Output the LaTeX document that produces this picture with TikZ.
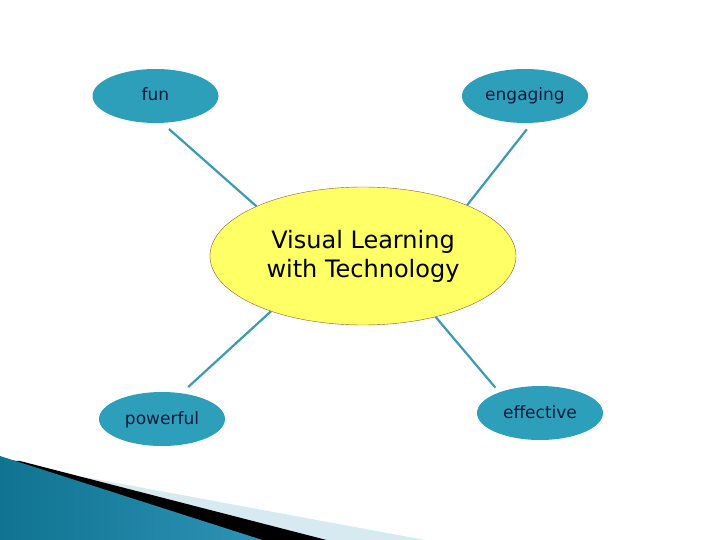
\documentclass[tikz,border=0pt]{standalone}
\usepackage{fontspec}
\setmainfont{DejaVu Sans}
\usepackage{xcolor}
\usetikzlibrary{shapes,positioning}
\definecolor{leafblue}{HTML}{2E9FBA}
\definecolor{leaftext}{HTML}{0C1A3C}
\definecolor{idea}{HTML}{FFFF66}
\definecolor{ideaborder}{HTML}{A0522D}
\definecolor{linkblue}{HTML}{3A9BB2}
\definecolor{swdark}{HTML}{0F7391}
\definecolor{swlight}{HTML}{5BBCDC}
\definecolor{swtip}{HTML}{2F95B8}
\definecolor{swpale}{HTML}{D8EAF1}
\tikzstyle{hub} = [ellipse, draw=ideaborder, fill=idea, minimum width=306pt, minimum height=138pt, inner sep=0pt, align=center, font=\fontsize{24}{29}\selectfont]
\tikzstyle{leaf} = [ellipse, fill=leafblue, minimum width=126pt, minimum height=54pt, inner sep=0pt, text=leaftext, text height=12pt, text depth=2pt, font=\fontsize{17}{20}\selectfont]
\tikzstyle{link} = [draw=linkblue, line width=2.2pt]

\begin{document}
\begin{tikzpicture}[x=1pt, y=-1pt, node distance=369.5pt]
  \useasboundingbox (0,0) rectangle (720,540);
  % corner swoosh
  \fill[swpale] (90,478) -- (452,545) -- (0,545) -- (0,470) -- cycle;
  \fill[black] (20,461) -- (346,545) -- (0,545) -- (0,460) -- cycle;
  \shade[left color=swdark, middle color=swlight, right color=swtip] (0,456) -- (278,545) -- (0,545) -- cycle;
  % mind map
  \node[hub] (hub) at (363,256) {Visual Learning\\with Technology};
  \node[leaf] (fun) at (155.5,96) {fun};
  \node[leaf] (engaging) [right of=fun] {engaging};
  \node[leaf] (powerful) at (162,419) {powerful};
  \node[leaf] (effective) at (540,413) {effective};
  \draw[link, shorten <=9pt] (fun.-76) -- (hub.155);
  \draw[link, shorten <=8pt] (engaging.-76) -- (hub.26);
  \draw[link, shorten >=9pt] (hub.211) -- (powerful.53);
  \draw[link, shorten >=6pt] (hub.-40) -- (effective.153);
\end{tikzpicture}
\end{document}
